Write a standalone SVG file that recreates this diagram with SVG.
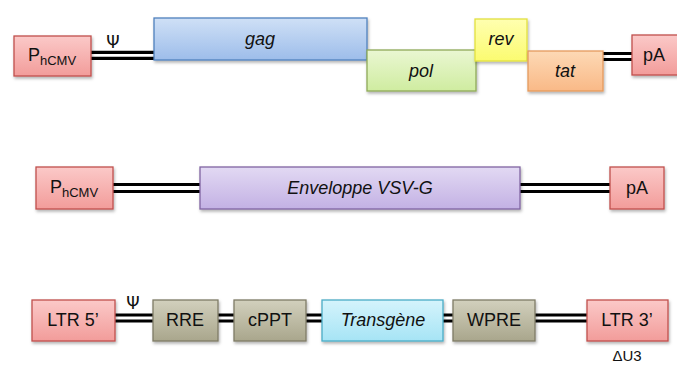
<svg xmlns="http://www.w3.org/2000/svg" width="677" height="367" viewBox="0 0 677 367">
<defs>
<linearGradient id="gPink" x1="0" y1="0" x2="0" y2="1"><stop offset="0" stop-color="#fbc9c8"/><stop offset="1" stop-color="#f29c9a"/></linearGradient>
<linearGradient id="gBlue" x1="0" y1="0" x2="0" y2="1"><stop offset="0" stop-color="#cfe0f6"/><stop offset="1" stop-color="#9dbdea"/></linearGradient>
<linearGradient id="gGreen" x1="0" y1="0" x2="0" y2="1"><stop offset="0" stop-color="#eaf7d2"/><stop offset="1" stop-color="#cfeca0"/></linearGradient>
<linearGradient id="gYellow" x1="0" y1="0" x2="0" y2="1"><stop offset="0" stop-color="#ffffb0"/><stop offset="1" stop-color="#fbfb70"/></linearGradient>
<linearGradient id="gOrange" x1="0" y1="0" x2="0" y2="1"><stop offset="0" stop-color="#fdd9b5"/><stop offset="1" stop-color="#f9b987"/></linearGradient>
<linearGradient id="gPurple" x1="0" y1="0" x2="0" y2="1"><stop offset="0" stop-color="#e2d9f3"/><stop offset="1" stop-color="#c3b1e4"/></linearGradient>
<linearGradient id="gKhaki" x1="0" y1="0" x2="0" y2="1"><stop offset="0" stop-color="#d2d0bd"/><stop offset="1" stop-color="#a9a68c"/></linearGradient>
<linearGradient id="gCyan" x1="0" y1="0" x2="0" y2="1"><stop offset="0" stop-color="#d5f4fc"/><stop offset="1" stop-color="#a6e4f5"/></linearGradient>
<filter id="sh" x="-10%" y="-20%" width="125%" height="150%"><feDropShadow dx="1" dy="2" stdDeviation="1.5" flood-color="#000" flood-opacity="0.3"/></filter>
</defs>
<style>
.box{filter:url(#sh);stroke-width:1.3}
.pink{fill:url(#gPink);stroke:#c0504d}
.blue{fill:url(#gBlue);stroke:#4f81bd}
.green{fill:url(#gGreen);stroke:#8faa58}
.yellow{fill:url(#gYellow);stroke:#e2e040}
.orange{fill:url(#gOrange);stroke:#e59a5c}
.purple{fill:url(#gPurple);stroke:#8064a2}
.khaki{fill:url(#gKhaki);stroke:#7f7c66}
.cyan{fill:url(#gCyan);stroke:#4bacc6}
text{font-family:"Liberation Sans",Arial,sans-serif;font-size:18px;fill:#111;text-anchor:middle;dominant-baseline:central}
.it{font-style:italic}
.sub{font-size:13px}
.psi{font-family:"DejaVu Sans",sans-serif;font-size:17px}
.dl{stroke:#000;stroke-width:3.2;fill:none}
</style>
<g id="connectors">
<path class="dl" d="M91 52.3H154M91 58.3H154"/>
<path class="dl" d="M603 53.5H632M603 59.5H632"/>
<path class="dl" d="M113 184.5H200M113 191.5H200"/>
<path class="dl" d="M520 184.5H610M520 191.5H610"/>
<path class="dl" d="M115 315H153M115 321H153"/>
<path class="dl" d="M218 315H234M218 321H234"/>
<path class="dl" d="M306 315H322M306 321H322"/>
<path class="dl" d="M443 315H453M443 321H453"/>
<path class="dl" d="M535 315H587M535 321H587"/>
</g>
<g id="psi1"><text class="psi" x="113" y="42">Ψ</text></g>
<g id="psi3"><text class="psi" x="133" y="303">Ψ</text></g>
<g id="phcmv1"><rect class="box pink" x="14" y="36" width="77" height="40"/><text x="52" y="55"><tspan>P</tspan><tspan class="sub" dy="5">hCMV</tspan></text></g>
<g id="gag"><rect class="box blue" x="154" y="18" width="213" height="42"/><text class="it" x="260" y="39">gag</text></g>
<g id="pol"><rect class="box green" x="367" y="50" width="109" height="41"/><text class="it" x="421" y="71">pol</text></g>
<g id="rev"><rect class="box yellow" x="475" y="19" width="52" height="42"/><text class="it" x="501" y="39">rev</text></g>
<g id="tat"><rect class="box orange" x="528" y="51" width="75" height="40"/><text class="it" x="565" y="71">tat</text></g>
<g id="pa1"><rect class="box pink" x="632" y="35" width="50" height="40"/><text x="654" y="55">pA</text></g>
<g id="phcmv2"><rect class="box pink" x="36" y="167" width="77" height="42"/><text x="74" y="187"><tspan>P</tspan><tspan class="sub" dy="5">hCMV</tspan></text></g>
<g id="env"><rect class="box purple" x="200" y="167" width="320" height="42"/><text class="it" x="360" y="188">Enveloppe VSV-G</text></g>
<g id="pa2"><rect class="box pink" x="610" y="167" width="54" height="42"/><text x="637" y="188">pA</text></g>
<g id="ltr5"><rect class="box pink" x="32" y="300" width="83" height="41"/><text x="73" y="320">LTR 5’</text></g>
<g id="rre"><rect class="box khaki" x="153" y="300" width="65" height="41"/><text x="185" y="320">RRE</text></g>
<g id="cppt"><rect class="box khaki" x="234" y="300" width="72" height="41"/><text x="270" y="320">cPPT</text></g>
<g id="transgene"><rect class="box cyan" x="322" y="300" width="121" height="41"/><text class="it" x="383" y="320">Transgène</text></g>
<g id="wpre"><rect class="box khaki" x="453" y="300" width="82" height="41"/><text x="494" y="320">WPRE</text></g>
<g id="ltr3"><rect class="box pink" x="587" y="300" width="81" height="41"/><text x="627" y="320">LTR 3’</text></g>
<g id="du3"><text x="627" y="361" style="font-size:15px;dominant-baseline:auto">ΔU3</text></g>
</svg>
